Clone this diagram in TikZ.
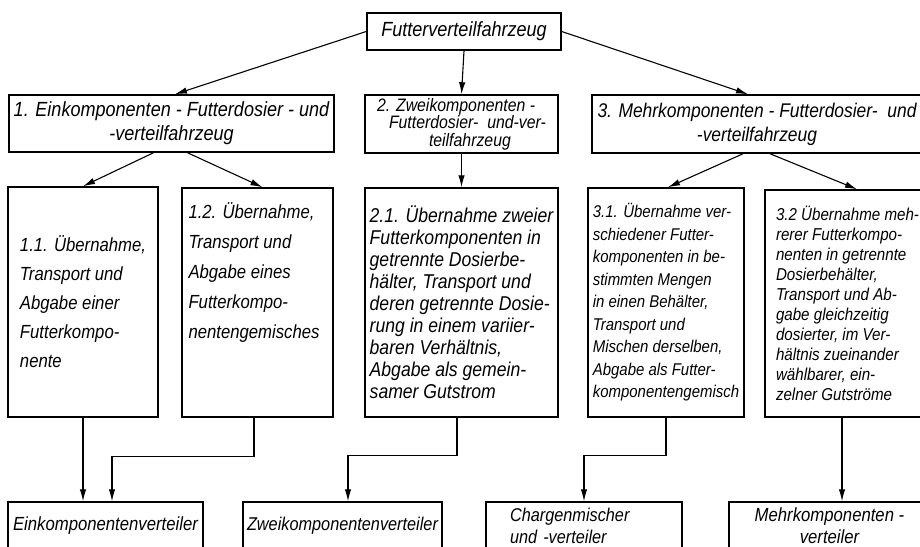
\documentclass[tikz,border=0pt]{standalone}
\usepackage{fontspec}
\setmainfont[FakeStretch=0.88]{Liberation Sans}
\usetikzlibrary{arrows.meta,positioning}
\newcommand{\ftsz}[2]{\fontsize{#1}{#2}\selectfont\itshape}
\tikzstyle{blk}=[draw, rectangle, line width=1.5pt, inner sep=3pt]
\tikzstyle{flow}=[->, line width=1.1pt, >={Latex[length=12pt,width=6.5pt]}]

\begin{document}
\begin{tikzpicture}[x=1pt,y=-1pt]
\useasboundingbox (0,0) rectangle (920,546);
\clip (0,0) rectangle (920,546);

% top
\node[blk, minimum width=194pt, minimum height=37pt, font=\ftsz{20.5}{22}] at (464,31.5) (top) {Futterverteilfahrzeug};

% vehicle types
\node[blk, minimum width=325pt, minimum height=57pt, align=center, font=\ftsz{20.5}{24}] at (171.5,123.5) (einfz)
  {1. Einkomponenten - Futterdosier - und\\ -verteilfahrzeug};
\node[blk, minimum width=193pt, minimum height=58pt, align=left, font=\ftsz{18}{17.5}] at (461.5,124) (zweifz)
  {2. Zweikomponenten -\\ \hspace*{12pt}Futterdosier-~ und-ver-\\ \hspace*{52pt}teilfahrzeug};
\node[blk, minimum width=330pt, minimum height=58pt, align=center, font=\ftsz{19.8}{24}] at (757,124) (mehrfz)
  {3. Mehrkomponenten - Futterdosier- \ und\\ -verteilfahrzeug};

% working principles
\node[blk, minimum width=150pt, minimum height=230pt, align=left, font=\ftsz{19}{29}] at (83,302) (e11)
  {1.1. Übernahme,\\ Transport und\\ Abgabe einer\\ Futterkompo-\\ nente};
\node[blk, minimum width=151pt, minimum height=229pt, font=\ftsz{19}{30}] at (257.5,302.5) (e12)
  {\parbox[c][200pt][t]{138pt}{\raggedright 1.2. Übernahme,\\ Transport und\\ Abgabe eines\\ Futterkompo-\\ nentengemisches}};
\node[blk, minimum width=193pt, minimum height=229pt, align=left, font=\ftsz{20}{22}] at (461.5,302.5) (z21)
  {2.1. Übernahme zweier\\ Futterkomponenten in\\ getrennte Dosierbe-\\ hälter, Transport und\\ deren getrennte Dosie-\\
   rung in einem variier-\\ baren Verhältnis,\\ Abgabe als gemein-\\ samer Gutstrom};
\node[blk, minimum width=156pt, minimum height=229pt, align=left, font=\ftsz{17}{22.5}] at (666,302.5) (m31)
  {3.1. Übernahme ver-\\ schiedener Futter-\\ komponenten in be-\\ stimmten Mengen\\ in einen Behälter,\\
   Transport und\\ Mischen derselben,\\ Abgabe als Futter-\\ komponentengemisch};
\node[blk, minimum width=165pt, minimum height=227pt, align=left, font=\ftsz{17.2}{20}] at (847.5,303.5) (m32)
  {3.2 Übernahme meh-\\ rerer Futterkompo-\\ nenten in getrennte\\ Dosierbehälter,\\ Transport und Ab-\\
   gabe gleichzeitig\\ dosierter, im Ver-\\ hältnis zueinander\\ wählbarer, ein-\\ zelner Gutströme};

% distributors
\node[blk, minimum width=195pt, minimum height=48pt, font=\ftsz{19}{22}] at (105.5,526) (ev) {Einkomponentenverteiler};
\node[blk, minimum width=199pt, minimum height=48pt, font=\ftsz{18.5}{22}] at (342.5,526) (zv) {Zweikomponentenverteiler};
\node[blk, minimum width=196pt, minimum height=48pt, inner xsep=24pt, text width=148pt, align=left, font=\ftsz{18.5}{22}] at (584,526) (cv)
  {Chargenmischer\\ und -verteiler};
\node[blk, minimum width=201pt, minimum height=48pt, align=center, font=\ftsz{19}{22}] at (829.5,526) (mv)
  {Mehrkomponenten -\\ verteiler};

\draw[flow] (top.west) -- ([xshift=3.5pt]einfz.north);
\draw[flow] (top.south) -- (zweifz.north);
\draw[flow] (top.east) -- ([xshift=-9pt]mehrfz.north);

\draw[flow] ([xshift=-18pt]einfz.south) -- (e11.north);
\draw[flow] ([xshift=16pt]einfz.south) -- ([xshift=5pt]e12.north);
\draw[flow] (zweifz.south) -- (z21.north);
\draw[flow] ([xshift=-14pt]mehrfz.south) -- ([xshift=2pt]m31.north);
\draw[flow] ([xshift=13pt]mehrfz.south) -- ([xshift=9.5pt]m32.north);

\draw[flow] (e11.south) -- ([xshift=-22.5pt]ev.north);
\draw[flow] ([xshift=-3.5pt]e12.south) -- ++(0,39) -| ([xshift=6.5pt]ev.north);
\draw[flow] ([xshift=-4.5pt]z21.south) -- ++(0,38) -| ([xshift=5.5pt]zv.north);
\draw[flow] (m31.south) -- ++(0,38) -| (cv.north);
\draw[flow] ([xshift=-5.5pt]m32.south) -- ([xshift=12.5pt]mv.north);
\end{tikzpicture}
\end{document}
